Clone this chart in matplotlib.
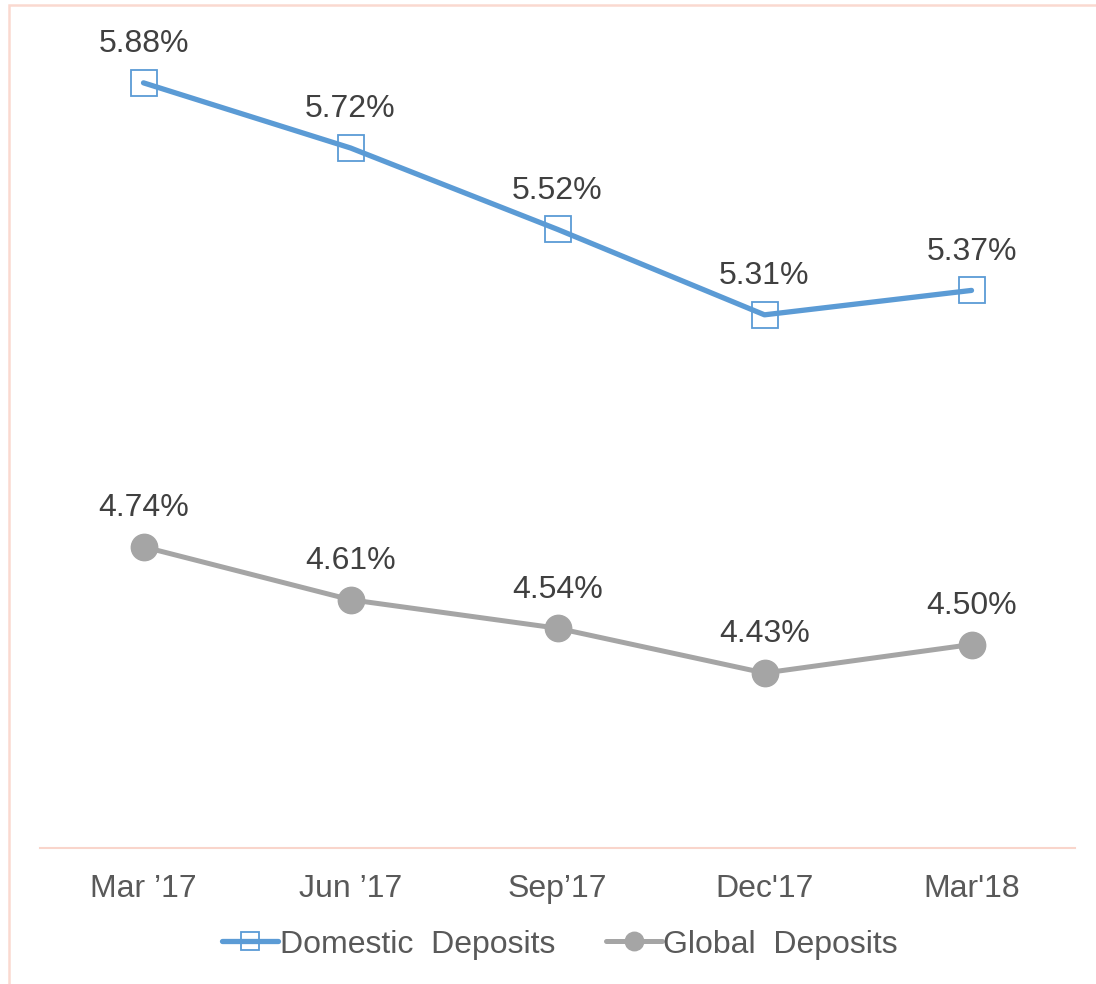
import matplotlib
matplotlib.use("Agg")
import matplotlib.pyplot as plt
from matplotlib.patches import Rectangle

# Data
quarters = ["Mar \u201917", "Jun \u201917", "Sep\u201917", "Dec'17", "Mar'18"]
domestic = [5.88, 5.72, 5.52, 5.31, 5.37]
global_dep = [4.74, 4.61, 4.54, 4.43, 4.50]

plt.rcParams["font.family"] = ["Liberation Sans", "DejaVu Sans"]

fig = plt.figure(figsize=(10.96, 9.84), dpi=100)
ax = fig.add_axes([40 / 1096, 136 / 984, 1035 / 1096, 814 / 984])

x = range(len(quarters))
ax.plot(x, domestic, color="#5B9BD5", linewidth=3.8, marker="s",
        markersize=19, markerfacecolor="none", markeredgecolor="#5B9BD5",
        markeredgewidth=1.3, label="Domestic  Deposits", solid_capstyle="round")
ax.plot(x, global_dep, color="#A5A5A5", linewidth=3.6, marker="o",
        markersize=19, markerfacecolor="#A5A5A5", markeredgecolor="#A5A5A5",
        label="Global  Deposits", solid_capstyle="round")

for xi, v in zip(x, domestic):
    ax.annotate(f"{v:.2f}%", (xi, v), xytext=(0, 22), textcoords="offset points",
                ha="center", va="baseline", fontsize=23, color="#404040")
for xi, v in zip(x, global_dep):
    ax.annotate(f"{v:.2f}%", (xi, v), xytext=(0, 22), textcoords="offset points",
                ha="center", va="baseline", fontsize=23, color="#404040")

ax.set_xlim(-0.5, 4.5)
ax.set_ylim(4.0, 6.0)
ax.set_xticks(list(x))
ax.set_xticklabels(quarters, fontsize=23, color="#595959")
ax.set_yticks([])
ax.tick_params(axis="x", length=0, pad=19)
for s in ["top", "right", "left"]:
    ax.spines[s].set_visible(False)
ax.spines["bottom"].set_color("#F9D5CB")
ax.spines["bottom"].set_linewidth(1.5)

ax.legend(loc="center", bbox_to_anchor=(0.511, 0.04), bbox_transform=fig.transFigure,
          ncol=2, frameon=False, fontsize=23, handlelength=1.75, handletextpad=0.05,
          columnspacing=1.6, labelcolor="#595959", markerscale=0.7)

# outer frame (left and top edges visible)
fig.patches.append(Rectangle((9 / 1096, -0.1), 1.2, 1.1 - 5 / 984,
                             transform=fig.transFigure, fill=False,
                             edgecolor="#FAD9D0", linewidth=1.8))

fig.savefig("out.png", dpi=100)
